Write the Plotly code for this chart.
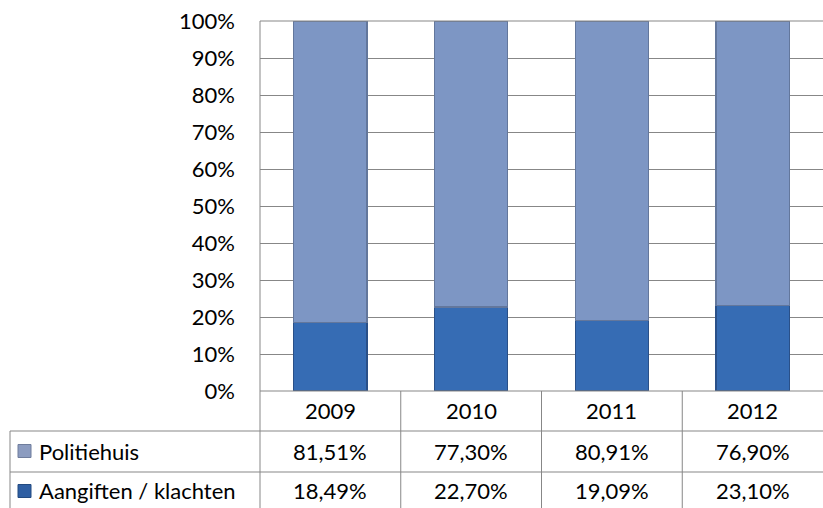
import plotly.graph_objects as go

years = ["2009", "2010", "2011", "2012"]
politiehuis = [81.51, 77.30, 80.91, 76.90]
aangiften = [18.49, 22.70, 19.09, 23.10]
series_names = ["Politiehuis", "Aangiften / klachten"]
y_ticks = [0, 10, 20, 30, 40, 50, 60, 70, 80, 90, 100]

W, H = 823, 508
L, R, T, B = 260, 0, 21, 117
pw, ph = W - L - R, H - T - B

def px_x(x):
    return (x - L) / pw

def px_y(y):
    return (H - B - y) / ph

FONT = "Lato"
FS = 22
fig = go.Figure()
fig.add_trace(go.Bar(x=years, y=aangiften, name=series_names[1],
                     marker=dict(color="#366CB4", line=dict(color="#2A5088", width=1.2))))
fig.add_trace(go.Bar(x=years, y=politiehuis, name=series_names[0],
                     marker=dict(color="#7D96C4", line=dict(color="#63779C", width=1.2))))

grid = "#878787"
fig.update_layout(
    width=W, height=H, barmode="stack", bargap=0.48,
    margin=dict(l=L, r=R, t=T, b=B, pad=0),
    plot_bgcolor="white", paper_bgcolor="white", showlegend=False,
    font=dict(family=FONT, size=FS, color="#000000"),
    xaxis=dict(type="category", showticklabels=False, ticks="", showgrid=False,
               zeroline=False, showline=False, range=[-0.5, 3.5], fixedrange=True),
    yaxis=dict(range=[0, 100], tickvals=y_ticks, ticktext=[f"{v}%" for v in y_ticks],
               showgrid=True, gridcolor=grid, gridwidth=1, zeroline=False, showline=False,
               ticks="", ticklabelstandoff=24, fixedrange=True,
               tickfont=dict(family=FONT, size=FS)),
)

shapes = []
line = dict(color=grid, width=1)
shapes.append(dict(type="line", xref="paper", yref="paper", x0=0, x1=0, y0=1, y1=px_y(H), line=line))
shapes.append(dict(type="line", xref="paper", yref="paper", x0=0, x1=1, y0=1, y1=1, line=line))
shapes.append(dict(type="line", xref="paper", yref="paper", x0=0, x1=1, y0=0, y1=0, line=line))
for i in range(1, len(years)):
    shapes.append(dict(type="line", xref="x", yref="paper", x0=i - 0.5, x1=i - 0.5,
                       y0=0, y1=px_y(H), line=line))
for yy in (431, 472):
    shapes.append(dict(type="line", xref="paper", yref="paper", x0=px_x(10), x1=1,
                       y0=px_y(yy), y1=px_y(yy), line=line))
shapes.append(dict(type="line", xref="paper", yref="paper", x0=px_x(10), x1=px_x(10),
                   y0=px_y(431), y1=px_y(H), line=line))
key_cols = ["#8C9CC0", "#2F5FA3"]
key_lines = ["#6F7D9C", "#234A80"]
for (yc, col, lc) in zip((451, 491), key_cols, key_lines):
    shapes.append(dict(type="rect", xref="paper", yref="paper",
                       x0=px_x(18), x1=px_x(31), y0=px_y(yc - 6.5), y1=px_y(yc + 6.5),
                       fillcolor=col, line=dict(color=lc, width=1)))
fig.update_layout(shapes=shapes)

def fmt(v):
    return f"{v:.2f}".replace(".", ",") + "%"

ann = []
for i, yr in enumerate(years):
    for text, yc in ((yr, 411), (fmt(politiehuis[i]), 451), (fmt(aangiften[i]), 491)):
        ann.append(dict(x=i, y=px_y(yc), xref="x", yref="paper", text=text, showarrow=False,
                        font=dict(family=FONT, size=FS), xanchor="center", yanchor="middle"))
for name, yc in zip(series_names, (451, 491)):
    ann.append(dict(x=px_x(37), y=px_y(yc), xref="paper", yref="paper", text=name,
                    showarrow=False, font=dict(family=FONT, size=FS),
                    xanchor="left", yanchor="middle"))
fig.update_layout(annotations=ann)

fig.write_html("out.html", config={"displayModeBar": False},
               post_script="document.body.style.margin='0';")
